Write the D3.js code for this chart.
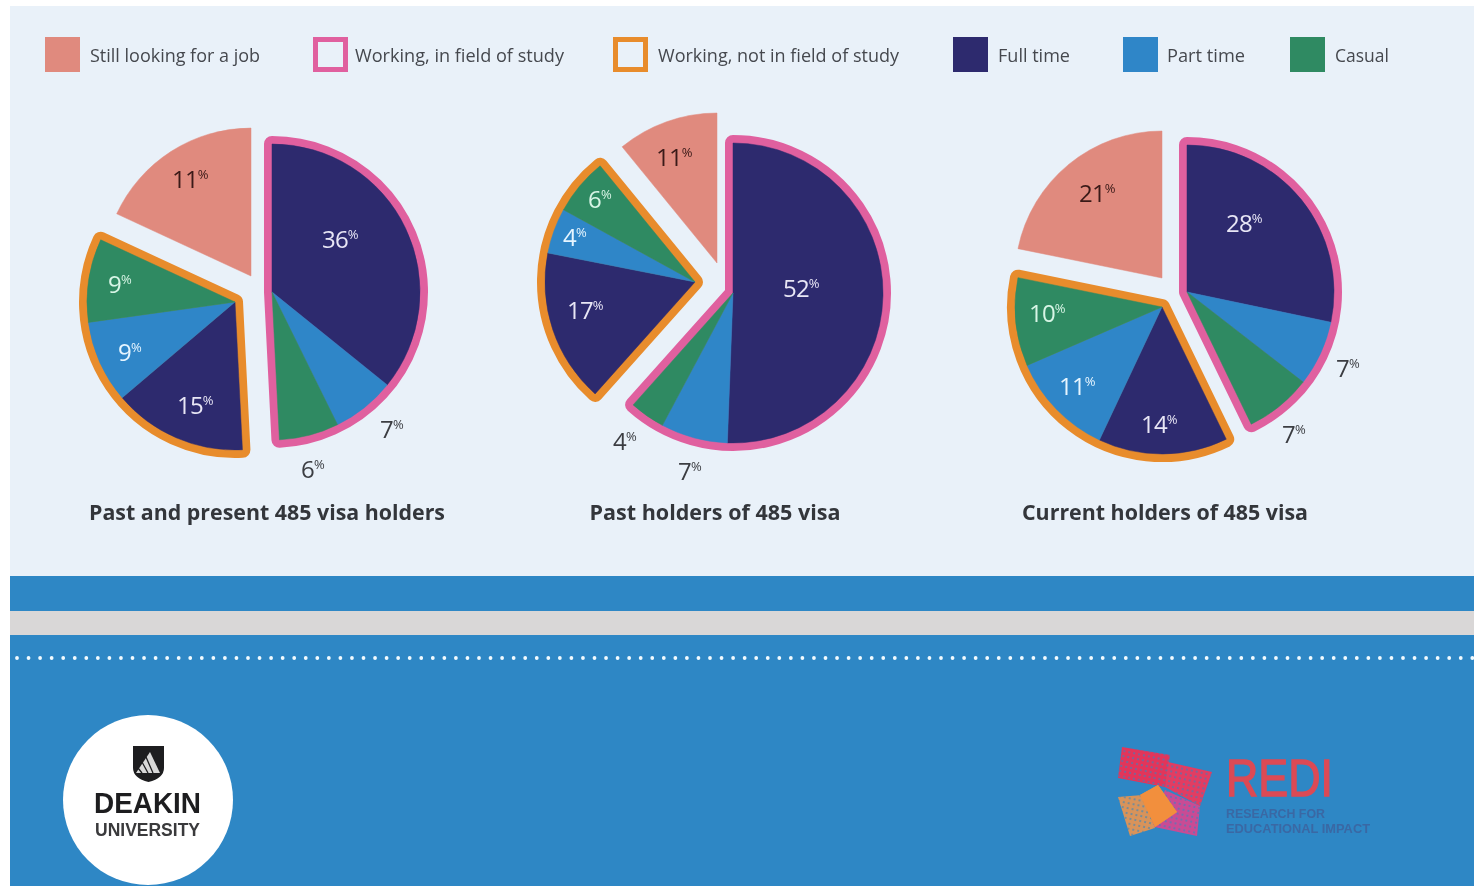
<!DOCTYPE html>
<html lang="en">
<head>
<meta charset="UTF-8" />
<title>485 visa holders</title>
<style>
  html, body { margin: 0; padding: 0; background: #fff; overflow: hidden; }
  svg { display: block; font-family: "Open Sans", sans-serif; filter: blur(0.55px); }
</style>
</head>
<body>
<svg id="chart" width="1474" height="886"></svg>
<script src="https://d3js.org/d3.v7.min.js"></script>
<script>
// slices run clockwise from 12 o'clock
const sliceNames = ["Full time", "Part time", "Casual", "Full time", "Part time", "Casual", "Still looking for a job"];

const legendNames = ["Still looking for a job", "Working, in field of study", "Working, not in field of study", "Full time", "Part time", "Casual"];
const pieTitles = ["Past and present 485 visa holders", "Past holders of 485 visa", "Current holders of 485 visa"];

// printed percentages
const pie1Labels = [36, 7, 6, 15, 9, 9, 11];
const pie2Labels = [52, 7, 4, 17, 4, 6, 11];
const pie3Labels = [28, 7, 7, 14, 11, 10, 21];

// share of the circle each slice actually takes up in the picture (not always the printed number)
const pie1Shares = [35.8, 6.9, 6.5, 14.6, 9, 9.1, 18.1];
const pie2Shares = [50.6, 7.2, 3.8, 16.5, 4.9, 6.1, 10.9];
const pie3Shares = [28.3, 7.2, 7.3, 14.2, 11.5, 9.7, 21.8];

const colors = {
  "Full time": "#2d2a6e",
  "Part time": "#2f86c8",
  "Casual": "#2f8a62",
  "Still looking for a job": "#e08a7e",
  pink: "#e0609f",
  orange: "#e88c2c"
};
const labelColors = {
  "Full time": "#e8e6f5",
  "Part time": "#e6f5ff",
  "Casual": "#d8f5e6",
  "Still looking for a job": "#3a1a18"
};
const outerLabel = "#3b3d42";

// layout, one entry per pie
const pieLayout = [
  {
    labels: pie1Labels, shares: pie1Shares, r: 148, titleX: 267, titleLen: 356,
    apex: { pink: [272, 292], orange: [235, 302], still: [251, 276] },
    labelXY: [[322, 248], [380, 438], [301, 478], [177, 414], [118, 361], [108, 293], [172, 188]],
    outside: [1, 2]
  },
  {
    labels: pie2Labels, shares: pie2Shares, r: 150, titleX: 715, titleLen: 251,
    apex: { pink: [733, 293], orange: [695, 282], still: [717, 263] },
    labelXY: [[783, 297], [678, 480], [613, 450], [567, 319], [563, 246], [588, 208], [656, 166]],
    outside: [1, 2]
  },
  {
    labels: pie3Labels, shares: pie3Shares, r: 147, titleX: 1165, titleLen: 286,
    apex: { pink: [1187, 292], orange: [1162, 307], still: [1162, 278] },
    labelXY: [[1226, 232], [1336, 377], [1282, 443], [1141, 433], [1059, 395], [1029, 322], [1079, 202]],
    outside: [1, 2]
  }
];

const legendLayout = [
  { x: 45, textX: 90, kind: "fill", color: colors["Still looking for a job"], len: 170 },
  { x: 313, textX: 355, kind: "box", color: colors.pink, len: 209 },
  { x: 613, textX: 658, kind: "box", color: colors.orange, len: 241 },
  { x: 953, textX: 998, kind: "fill", color: colors["Full time"], len: 72 },
  { x: 1123, textX: 1167, kind: "fill", color: colors["Part time"], len: 78 },
  { x: 1290, textX: 1335, kind: "fill", color: colors["Casual"], len: 54 }
];

const svg = d3.select("#chart");

// background bands
svg.append("rect").attr("x", 10).attr("y", 6).attr("width", 1464).attr("height", 570).attr("fill", "#e9f1f9");
svg.append("rect").attr("x", 10).attr("y", 576).attr("width", 1464).attr("height", 310).attr("fill", "#2e87c5");
svg.append("rect").attr("x", 10).attr("y", 611).attr("width", 1464).attr("height", 24).attr("fill", "#d9d7d7");
svg.append("line")
  .attr("x1", 17).attr("x2", 1474).attr("y1", 658).attr("y2", 658)
  .attr("stroke", "#f2fbff").attr("stroke-width", 3.8)
  .attr("stroke-linecap", "round").attr("stroke-dasharray", "0 11.55");

// legend
const legend = svg.append("g").selectAll("g").data(legendLayout).join("g");
legend.append("rect")
  .attr("x", d => d.kind === "box" ? d.x + 2.5 : d.x)
  .attr("y", d => d.kind === "box" ? 39.5 : 37)
  .attr("width", d => d.kind === "box" ? 30 : 35)
  .attr("height", d => d.kind === "box" ? 30 : 35)
  .attr("fill", d => d.kind === "box" ? "none" : d.color)
  .attr("stroke", d => d.kind === "box" ? d.color : "none")
  .attr("stroke-width", 5);
legend.append("text")
  .attr("x", d => d.textX)
  .attr("y", 62)
  .attr("font-size", 18.5)
  .attr("fill", "#45484e")
  .attr("textLength", d => d.len)
  .attr("lengthAdjust", "spacingAndGlyphs")
  .text((d, i) => legendNames[i]);

// pies
const pie = d3.pie().sort(null).value(d => d);

pieLayout.forEach((p, pi) => {
  const arcs = pie(p.shares);
  const arc = d3.arc().innerRadius(0).outerRadius(p.r);
  const g = svg.append("g");

  // slice 0-2 is the pink group, 3-5 the orange one, the last stands alone
  const groups = [
    { key: "pink", from: 0, to: 2, outline: colors.pink },
    { key: "orange", from: 3, to: 5, outline: colors.orange },
    { key: "still", from: 6, to: 6, outline: null }
  ];

  groups.forEach(gr => {
    const sub = g.append("g").attr("transform", `translate(${p.apex[gr.key]})`);
    if (gr.outline) {
      // double width stroke under the slices, so only the outer half shows
      sub.append("path")
        .attr("d", arc({ startAngle: arcs[gr.from].startAngle, endAngle: arcs[gr.to].endAngle }))
        .attr("fill", gr.outline)
        .attr("stroke", gr.outline)
        .attr("stroke-width", 16)
        .attr("stroke-linejoin", "round");
    }
    sub.selectAll("path.slice")
      .data(arcs.slice(gr.from, gr.to + 1))
      .join("path")
      .attr("class", "slice")
      .attr("d", arc)
      .attr("fill", d => colors[sliceNames[d.index]])
      .attr("stroke", d => colors[sliceNames[d.index]])
      .attr("stroke-width", 0.5);
  });

  const labels = g.selectAll("text.val")
    .data(p.labels)
    .join("text")
    .attr("class", "val")
    .attr("x", (d, i) => p.labelXY[i][0])
    .attr("y", (d, i) => p.labelXY[i][1])
    .attr("font-size", 24)
    .attr("letter-spacing", -0.8)
    .attr("fill", (d, i) => p.outside.includes(i) ? outerLabel : labelColors[sliceNames[i]]);
  labels.append("tspan").text(d => d);
  labels.append("tspan")
    .attr("font-size", 13)
    .attr("dy", -9)
    .text("%");

  g.append("text")
    .attr("x", p.titleX)
    .attr("y", 520)
    .attr("text-anchor", "middle")
    .attr("font-size", 21)
    .attr("font-weight", 700)
    .attr("fill", "#33363b")
    .attr("textLength", p.titleLen)
    .attr("lengthAdjust", "spacingAndGlyphs")
    .text(pieTitles[pi]);
});

// Deakin logo
const deakin = svg.append("g").attr("font-family", "'Liberation Sans', sans-serif");
deakin.append("circle").attr("cx", 148).attr("cy", 800).attr("r", 85).attr("fill", "#fff");
deakin.append("path")
  .attr("d", "M133 746H164V768Q164 778 148.500 782Q133 778 133 768Z")
  .attr("fill", "#1d1d1f");
deakin.append("path")
  .attr("d", "M150 752L160 773H136Z")
  .attr("fill", "#d8d8d8");
deakin.append("path")
  .attr("d", "M146 757L153 773M142 762L148 773M138 768L142 773")
  .attr("stroke", "#1d1d1f")
  .attr("stroke-width", 1.3);
deakin.append("text")
  .attr("x", 94).attr("y", 813)
  .attr("font-size", 30).attr("font-weight", 700).attr("fill", "#1d1d1f")
  .attr("textLength", 107).attr("lengthAdjust", "spacingAndGlyphs")
  .text("DEAKIN");
deakin.append("text")
  .attr("x", 95).attr("y", 836)
  .attr("font-size", 18).attr("font-weight", 700).attr("fill", "#3a3a3c")
  .attr("textLength", 105).attr("lengthAdjust", "spacingAndGlyphs")
  .text("UNIVERSITY");

// REDI logo
const redi = svg.append("g").attr("font-family", "'Liberation Sans', sans-serif");
const defs = svg.append("defs");
defs.append("filter").attr("id", "soft").append("feGaussianBlur").attr("stdDeviation", 0.7);
const speck = defs.append("pattern").attr("id", "speck")
  .attr("width", 5).attr("height", 5).attr("patternUnits", "userSpaceOnUse")
  .attr("patternTransform", "rotate(12)");
speck.append("rect").attr("width", 2).attr("height", 2).attr("fill", "#2e87c5").attr("opacity", 0.55);
const patches = [
  { pts: "1122,747 1170,755 1165,787 1118,778", fill: "#e2355a" },
  { pts: "1168,762 1212,772 1200,806 1165,787", fill: "#e23c62" },
  { pts: "1165,790 1200,806 1197,836 1150,826", fill: "#c94c94" },
  { pts: "1118,797 1142,795 1155,828 1130,836", fill: "#d8935a" },
  { pts: "1158,785 1177,812 1155,827 1140,795", fill: "#f28f3c" }
];
const patchG = redi.append("g").attr("filter", "url(#soft)");
patchG.selectAll("polygon.base").data(patches).join("polygon")
  .attr("class", "base")
  .attr("points", d => d.pts)
  .attr("fill", d => d.fill);
// speckled edges, everything but the solid orange square
patchG.selectAll("polygon.speck").data(patches.slice(0, 4)).join("polygon")
  .attr("class", "speck")
  .attr("points", d => d.pts)
  .attr("fill", "url(#speck)");
patchG.append("polygon")
  .attr("points", patches[4].pts)
  .attr("fill", patches[4].fill);
redi.append("text")
  .attr("x", 1226).attr("y", 796)
  .attr("font-size", 52).attr("fill", "#dc4a55")
  .attr("stroke", "#dc4a55").attr("stroke-width", 1.4)
  .attr("textLength", 107).attr("lengthAdjust", "spacingAndGlyphs")
  .text("REDI");
redi.append("text")
  .attr("x", 1226).attr("y", 818)
  .attr("font-size", 12).attr("font-weight", 700).attr("fill", "#3a68a4")
  .attr("textLength", 99).attr("lengthAdjust", "spacingAndGlyphs")
  .text("RESEARCH FOR");
redi.append("text")
  .attr("x", 1226).attr("y", 833)
  .attr("font-size", 12).attr("font-weight", 700).attr("fill", "#3a68a4")
  .attr("textLength", 144).attr("lengthAdjust", "spacingAndGlyphs")
  .text("EDUCATIONAL IMPACT");
</script>
</body>
</html>
